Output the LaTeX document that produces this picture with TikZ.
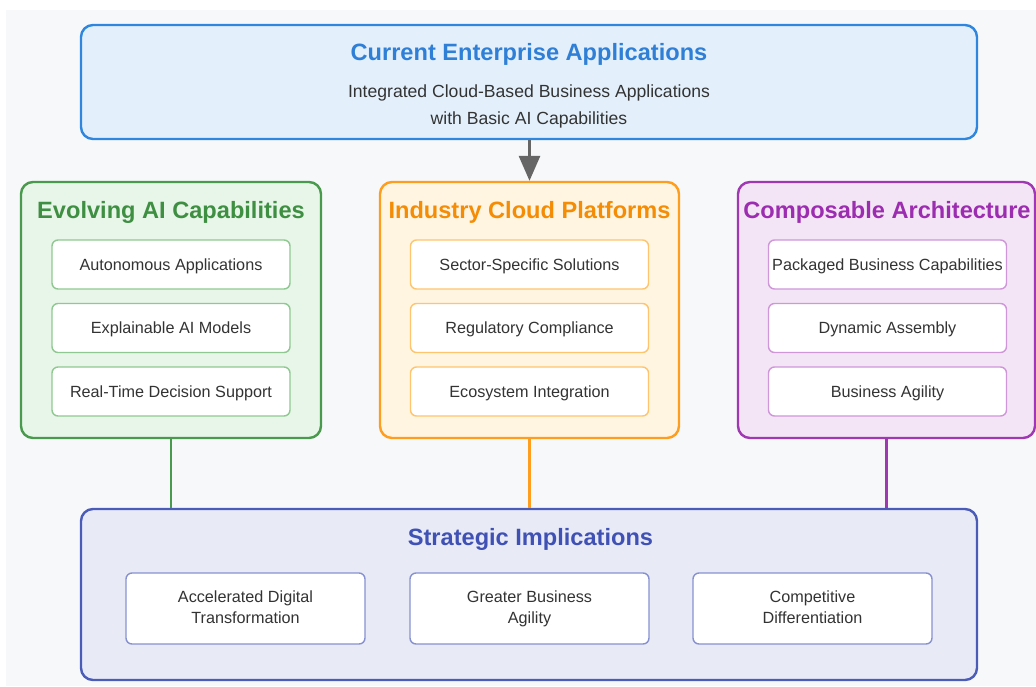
\documentclass[tikz,border=0pt]{standalone}
\usepackage{fontspec}
\setmainfont{Liberation Sans}
\usetikzlibrary{arrows.meta}
\definecolor{bgc}{HTML}{F7F8FA}
\definecolor{blueB}{HTML}{2E86DE}
\definecolor{blueF}{HTML}{E3F0FC}
\definecolor{blueT}{HTML}{2F7FD6}
\definecolor{greenB}{HTML}{4A9A4E}
\definecolor{greenF}{HTML}{E8F5E9}
\definecolor{greenT}{HTML}{3F8F43}
\definecolor{greenL}{HTML}{8FC891}
\definecolor{orangeB}{HTML}{FF9D1E}
\definecolor{orangeF}{HTML}{FFF5E0}
\definecolor{orangeT}{HTML}{F48C06}
\definecolor{orangeL}{HTML}{FFC46E}
\definecolor{purpleB}{HTML}{A038B4}
\definecolor{purpleF}{HTML}{F3E5F5}
\definecolor{purpleT}{HTML}{9C2CB0}
\definecolor{purpleL}{HTML}{CF96DA}
\definecolor{indigoB}{HTML}{4A5BB8}
\definecolor{indigoF}{HTML}{E8EAF6}
\definecolor{indigoT}{HTML}{3F51B5}
\definecolor{indigoL}{HTML}{8791D0}
\definecolor{txt}{HTML}{333333}
\definecolor{arrowc}{HTML}{666666}
\tikzset{
  panel/.style={draw=#1B, fill=#1F, line width=2.4pt, rounded corners=12pt, minimum height=256pt, inner sep=0pt},
  item/.style={draw=#1L, fill=white, line width=1.4pt, rounded corners=6pt, minimum width=238pt, minimum height=49pt, inner sep=0pt, text=txt, text height=11.6pt, text depth=0pt, font=\fontsize{16.2}{19}\selectfont},
  titletext/.style={text=#1T, font=\bfseries\fontsize{23.6}{28}\selectfont, inner sep=0pt, text height=16.9pt, text depth=0pt},
  link/.style={draw=#1B, line width=2.4pt},
  impl/.style={draw=indigoL, fill=white, line width=1.4pt, rounded corners=6pt, minimum width=239pt, minimum height=71pt, inner sep=0pt, text=txt, align=center, font=\fontsize{16.2}{21}\selectfont}
}
\begin{document}
\begin{tikzpicture}[x=1pt,y=-1pt]
\useasboundingbox (0,0) rectangle (1036,686);
\fill[white] (0,0) rectangle (1036,686);
\fill[bgc] (6,10) rectangle (1036,686);

% top box
\node[draw=blueB, fill=blueF, line width=2.4pt, rounded corners=12pt, minimum width=896pt, minimum height=114pt, inner sep=0pt] (top) at (529,82) {};
\node[titletext=blue] (toptitle) at (529,52) {Current Enterprise Applications};
\node[text=txt, font=\fontsize{17.6}{27}\selectfont, align=center, inner sep=0pt] (topsub) at (529,106.5) {Integrated Cloud-Based Business Applications\\with Basic AI Capabilities};

% panels
\node[panel=green, minimum width=300pt] (pg) at (171,310) {};
\node[panel=orange, minimum width=299pt] (po) at (529.5,310) {};
\node[panel=purple, minimum width=297pt] (pp) at (886.5,310) {};

\node[titletext=green] (tg) at (171,210) {Evolving AI Capabilities};
\node[titletext=orange] (to) at (529.5,210) {Industry Cloud Platforms};
\node[titletext=purple] (tp) at (887,210) {Composable Architecture};

\node[item=green] (g1) at (171,264.5) {Autonomous Applications};
\node[item=green] (g2) at (171,328) {Explainable AI Models};
\node[item=green] (g3) at (171,391.5) {Real-Time Decision Support};

\node[item=orange] (o1) at (529.5,264.5) {Sector-Specific Solutions};
\node[item=orange] (o2) at (529.5,328) {Regulatory Compliance};
\node[item=orange] (o3) at (529.5,391.5) {Ecosystem Integration};

\node[item=purple] (p1) at (887.5,264.5) {Packaged Business Capabilities};
\node[item=purple] (p2) at (887.5,328) {Dynamic Assembly};
\node[item=purple] (p3) at (887.5,391.5) {Business Agility};

% bottom box
\node[draw=indigoB, fill=indigoF, line width=2.4pt, rounded corners=12pt, minimum width=896pt, minimum height=171pt, inner sep=0pt] (bot) at (529,594.5) {};
\node[titletext=indigo] (tb) at (530.5,537) {Strategic Implications};
\node[impl] (b1) at (245.5,608.5) {Accelerated Digital\strut\\Transformation\strut};
\node[impl] (b2) at (529.5,608.5) {Greater Business\strut\\Agility\strut};
\node[impl] (b3) at (812.5,608.5) {Competitive\strut\\Differentiation\strut};

% connectors
\draw[arrowc, line width=3pt, -{Triangle[length=25pt,width=21pt]}] (top.south -| po.north) -- (po.north);
\draw[link=green] (pg.south) -- (pg.south |- bot.north);
\draw[link=orange] (po.south) -- (po.south |- bot.north);
\draw[link=purple] (pp.south) -- (pp.south |- bot.north);
\end{tikzpicture}
\end{document}
